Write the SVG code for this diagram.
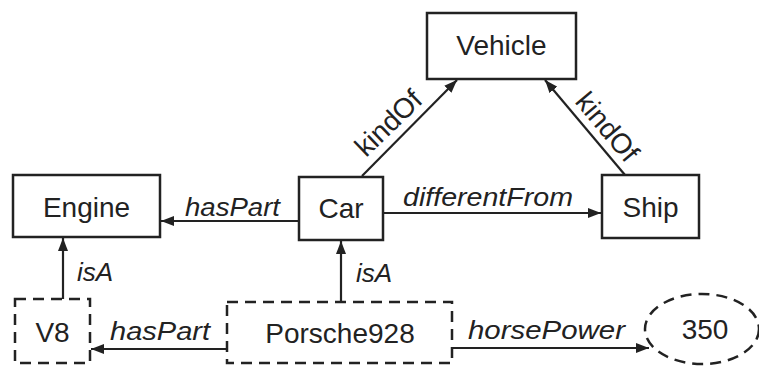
<svg xmlns="http://www.w3.org/2000/svg" width="759" height="368" viewBox="0 0 759 368">
<defs>
<style>
.box{fill:#fff;stroke:#222;stroke-width:2.5}
.dash{fill:#fff;stroke:#222;stroke-width:2.5;stroke-dasharray:11 7}
.nl{font-family:"Liberation Sans",Arial,sans-serif;font-size:28px;fill:#222;text-anchor:middle}
.el{font-family:"Liberation Sans",Arial,sans-serif;font-size:26px;font-style:italic;fill:#222}
.kl{font-family:"Liberation Sans",Arial,sans-serif;font-size:28px;fill:#222;text-anchor:middle}
.edge{stroke:#222;stroke-width:2.2;fill:none;marker-end:url(#ah)}
</style>
<marker id="ah" markerUnits="userSpaceOnUse" markerWidth="14" markerHeight="12" refX="13" refY="6" orient="auto">
<path d="M0,1 L13,6 L0,11 z" fill="#222"/>
</marker>
</defs>
<rect width="759" height="368" fill="#fff"/>
<g id="connectors">
<line class="edge" x1="299" y1="221" x2="161" y2="221"/>
<line class="edge" x1="383" y1="213" x2="601" y2="213"/>
<line class="edge" x1="362" y1="176" x2="457" y2="80"/>
<line class="edge" x1="625" y1="175" x2="545" y2="80"/>
<line class="edge" x1="63" y1="299" x2="63" y2="238"/>
<line class="edge" x1="341" y1="302" x2="341" y2="241"/>
<line class="edge" x1="227" y1="349" x2="91" y2="349"/>
<line class="edge" x1="452" y1="348" x2="649" y2="348"/>
<text class="el" x="185" y="216" textLength="95" lengthAdjust="spacingAndGlyphs">hasPart</text>
<text class="el" x="403" y="206" textLength="170" lengthAdjust="spacingAndGlyphs">differentFrom</text>
<text class="el" x="77" y="281">isA</text>
<text class="el" x="356" y="282">isA</text>
<text class="el" x="110" y="340" textLength="100" lengthAdjust="spacingAndGlyphs">hasPart</text>
<text class="el" x="468" y="339" textLength="157" lengthAdjust="spacingAndGlyphs">horsePower</text>
<text class="kl" x="395" y="130" transform="rotate(-44 395 130)">kindOf</text>
<text class="kl" x="600" y="133" transform="rotate(50 600 133)">kindOf</text>
</g>
<g id="vehicle"><rect class="box" x="427" y="13" width="149" height="66"/><text class="nl" x="501.5" y="55">Vehicle</text></g>
<g id="engine"><rect class="box" x="13" y="175" width="147" height="62"/><text class="nl" x="86.5" y="217">Engine</text></g>
<g id="car"><rect class="box" x="299" y="177" width="84" height="63"/><text class="nl" x="341" y="218">Car</text></g>
<g id="ship"><rect class="box" x="602" y="175" width="97" height="63"/><text class="nl" x="650.5" y="217">Ship</text></g>
<g id="v8"><rect class="dash" x="15" y="299" width="75" height="64"/><text class="nl" x="52.5" y="342">V8</text></g>
<g id="porsche928"><rect class="dash" x="227" y="302" width="225" height="61"/><text class="nl" x="340" y="343">Porsche928</text></g>
<g id="v350"><ellipse class="dash" cx="702" cy="329" rx="57" ry="35"/><text class="nl" x="705" y="339">350</text></g>
</svg>
